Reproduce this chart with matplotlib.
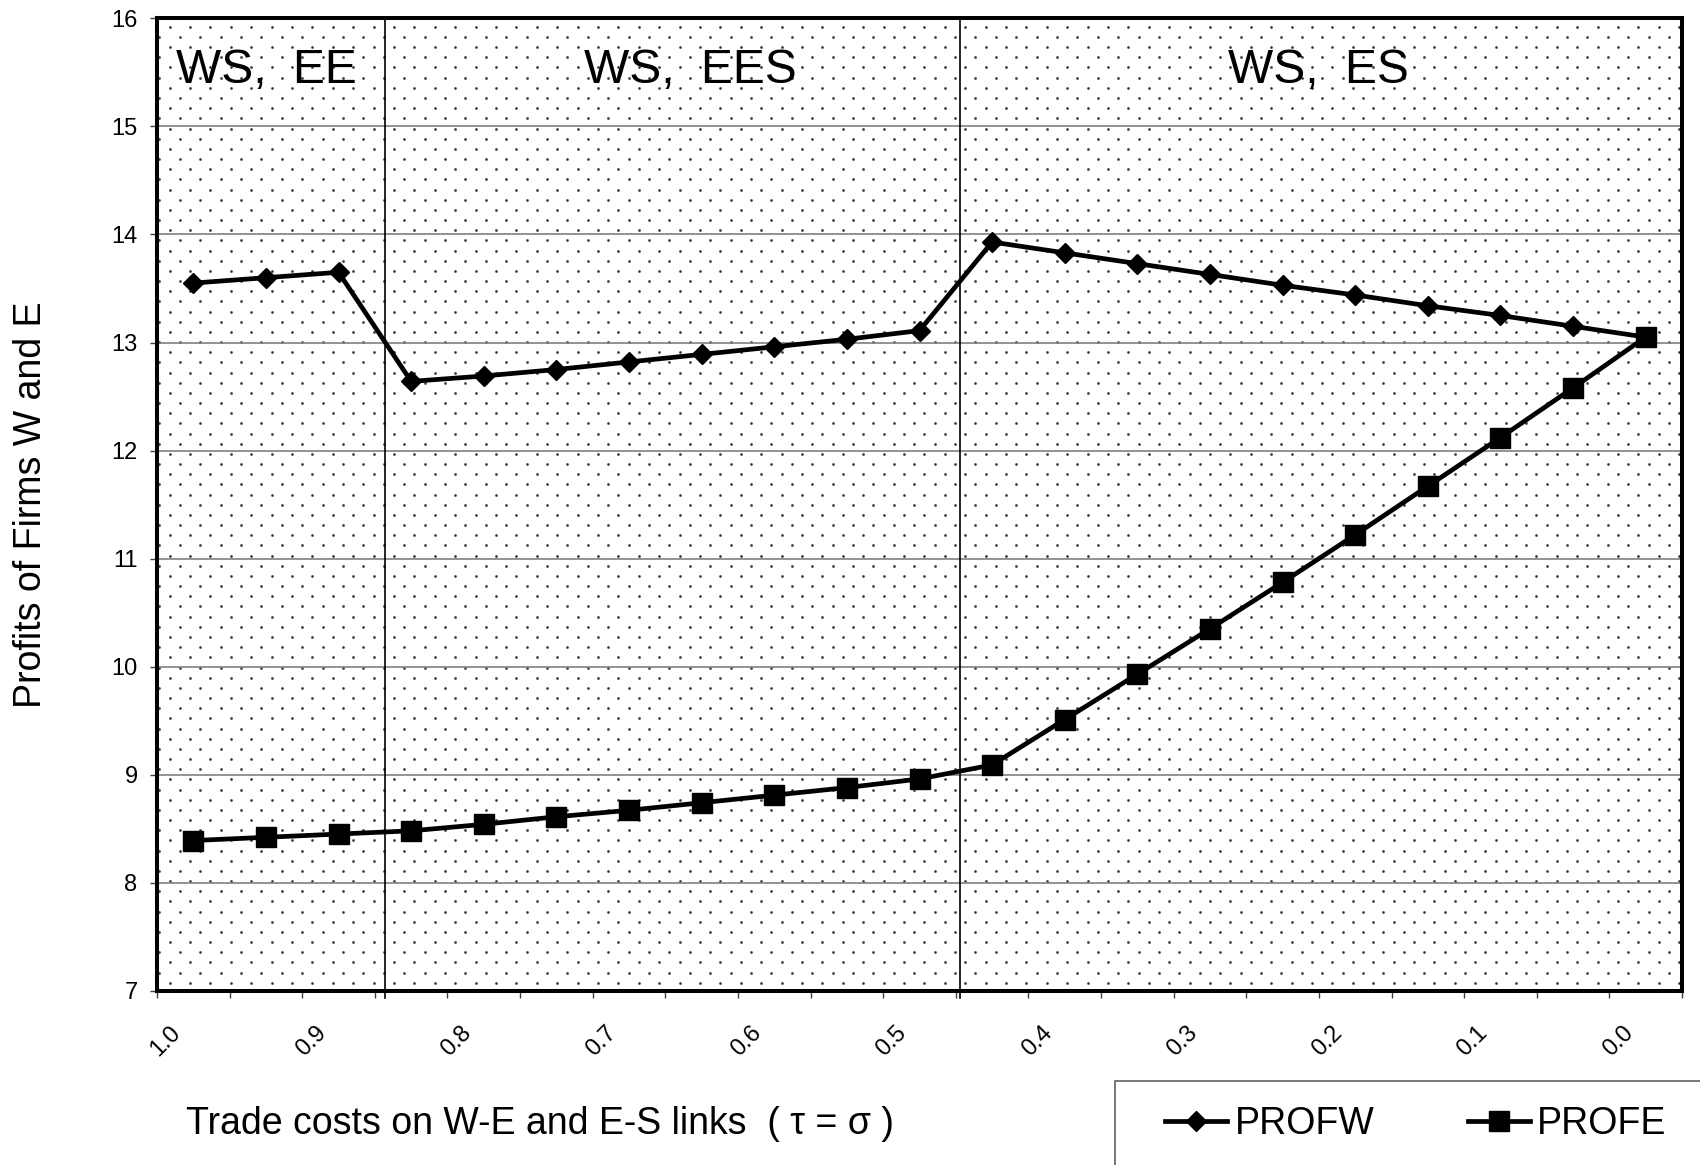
import numpy as np
import matplotlib
matplotlib.use('Agg')
import matplotlib.pyplot as plt
from matplotlib.patches import Rectangle
from matplotlib.transforms import ScaledTranslation

plt.rcParams['font.family'] = ['Liberation Sans', 'DejaVu Sans']

# trade costs (tau = sigma), 1.0 down to 0.0
tau = [1.00, 0.95, 0.90, 0.85, 0.80, 0.75, 0.70, 0.65, 0.60, 0.55, 0.50,
       0.45, 0.40, 0.35, 0.30, 0.25, 0.20, 0.15, 0.10, 0.05, 0.00]
profw = [13.55, 13.60, 13.65, 12.64, 12.69, 12.75, 12.82, 12.89, 12.96, 13.03, 13.11,
         13.93, 13.83, 13.73, 13.63, 13.53, 13.44, 13.34, 13.25, 13.15, 13.05]
profe = [8.39, 8.42, 8.45, 8.48, 8.54, 8.61, 8.67, 8.74, 8.81, 8.88, 8.96,
         9.09, 9.51, 9.93, 10.35, 10.78, 11.22, 11.67, 12.12, 12.58, 13.05]
x_labels = ['1.0', '0.9', '0.8', '0.7', '0.6', '0.5', '0.4', '0.3', '0.2', '0.1', '0.0']
regions = ['WS,  EE', 'WS,  EES', 'WS,  ES']
region_x = [1.0, 6.84, 15.5]      # label centres, category units
borders = [2.64, 10.56]           # regime switches, category units

W, H = 1700, 1165
fig = plt.figure(figsize=(W / 100, H / 100), dpi=100)
ax_l, ax_r, ax_t, ax_b = 157, 1682, 18.4, 990.7
ax = fig.add_axes([ax_l / W, 1 - ax_b / H, (ax_r - ax_l) / W, (ax_b - ax_t) / H])

xs = np.arange(len(tau))

# dotted background texture (staggered lattice, px spacing)
aw, ah = ax_r - ax_l, ax_b - ax_t
dx, dy = 20.4, 10.17
px, py = [], []
k = 0
y = 8.4
while y < ah:
    x = 12.6 + (k % 2) * dx / 2 - dx
    while x < aw:
        px.append(x / aw)
        py.append(1 - y / ah)
        x += dx
    y += dy
    k += 1
ax.scatter(px, py, s=4, c='#404040', linewidths=0, transform=ax.transAxes, zorder=0)

ax.set_xlim(-0.5, len(tau) - 0.5)
ax.set_ylim(7, 16)
ax.set_yticks(range(7, 17))
ax.yaxis.grid(True, color='#808080', lw=1.2, zorder=1)
ax.set_axisbelow(True)

for b in borders:
    ax.axvline(b, ymin=-0.008, ymax=1, color='black', lw=1.2, zorder=2, clip_on=False)

lw_, = ax.plot(xs, profw, color='black', lw=3.4, marker='D', ms=10, mew=1,
               label='PROFW', zorder=4, clip_on=False)
le_, = ax.plot(xs, profe, color='black', lw=3.4, marker='s', ms=14, mew=1,
               label='PROFE', zorder=4, clip_on=False)

for name, rx in zip(regions, region_x):
    ax.text(rx, 15.52, name, fontsize=34.5, ha='center', va='center', zorder=5)

# x ticks: marks at category boundaries, labels every other category
ax.set_xticks(np.arange(-0.5, len(tau), 1.0))
ax.set_xticklabels([])
ax.set_xticks(xs[::2], minor=True)
ax.set_xticklabels(x_labels, minor=True, rotation=45, ha='right', va='center',
                   rotation_mode='anchor', fontsize=17)
ax.tick_params(axis='x', which='major', length=5, width=1, color='#404040', direction='out')
ax.tick_params(axis='x', which='minor', length=0, pad=28)
off = ScaledTranslation(-16 / 100, 0, fig.dpi_scale_trans)
for lab in ax.get_xticklabels(minor=True):
    lab.set_transform(lab.get_transform() + off)

ax.tick_params(axis='y', length=5, width=1, color='#404040', pad=9, labelsize=17)

for sp in ax.spines.values():
    sp.set_linewidth(2.9)
    sp.set_color('black')
    sp.set_zorder(6)

fig.text(31 / W, 1 - 505 / H, 'Profits of Firms W and E', rotation=90,
         ha='center', va='center', fontsize=27)
fig.text(186 / W, 1 - 1124 / H, 'Trade costs on W-E and E-S links  ( \u03c4 = \u03c3 )',
         ha='left', va='center', fontsize=27)

# legend box running off the page edge
fig.patches.append(Rectangle((1115 / W, -0.1), 1.0, 0.1 + (H - 1081) / H,
                             transform=fig.transFigure, fill=False,
                             edgecolor='#606060', lw=1.2))
fig.legend(handles=[lw_, le_], loc='center left', ncol=2, frameon=False,
           bbox_to_anchor=(1165 / W, 1 - 1124 / H), fontsize=27,
           handlelength=1.65, handletextpad=0.2, columnspacing=2.5,
           borderaxespad=0, borderpad=0)

fig.savefig('out.png', dpi=100)
